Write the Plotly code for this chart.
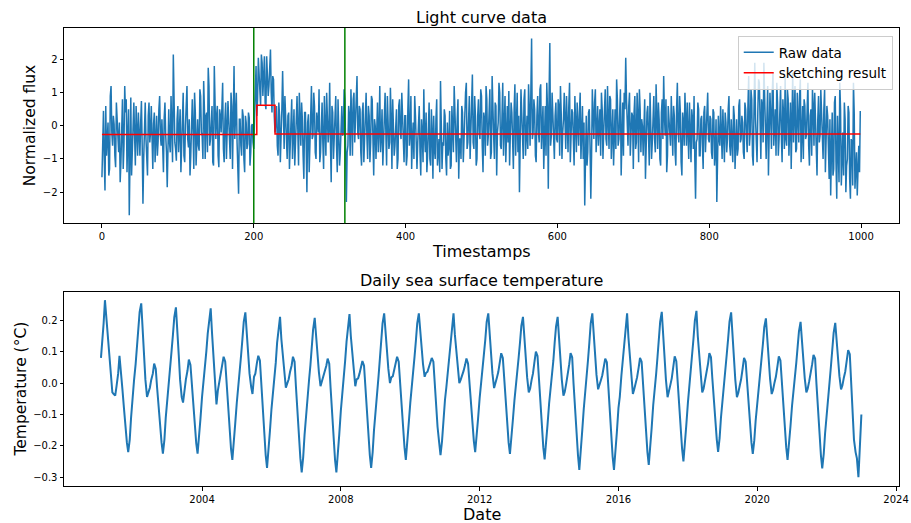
import pandas as pd
import plotly.graph_objects as go

# ---------------- Light curve data ----------------
# values at even timestamps 0, 2, 4, ... 998
flux_even = [
    -1.55, 0.45, -1.95, -0.9, 0.1, -1.3, 1.2, -0.6, 0.05, -1.25, 0.15, -0.8, -1.7, 0.2, -1.3, 1.2, 0.8, -0.3, -2.7, 0.85, -0.5, 0.7, -1.2, -0.1, 0.4,
    -0.9, 0.75, -2.35, 0.3, -0.4, -1.5, 0.7, -0.2, -0.7, 0.05, -1.1, 0.3, -0.45, 0.9, -0.6, -1.0, 0.25, -0.3, -1.85, 0.5, -0.8, 0.1, 2.15, -0.5, -1.05,
    0.6, -0.2, -1.4, 0.85, -0.9, 0.0, 1.2, -0.65, -1.5, 0.35, -0.1, 1.0, -1.2, 0.2, -0.75, 0.9, -0.3, 1.35, -1.0, 0.4, 1.75, -0.6, 0.1, -1.1, 1.8,
    -0.4, 0.6, -1.25, 0.3, 1.1, -0.7, 0.2, -1.0, 0.75, -0.35, 1.0, -1.3, 1.8, 0.5, -0.5, -2.05, 0.2, -0.9, 0.3, -1.4, 0.1, -0.55, 0.25, -0.8, 0.05,
    -0.7, 1.0, 0.3, 2.05, 1.3, 2.15, 0.9, 2.1, 0.5, 1.6, 1.2, 2.3, 0.4, 1.4, -0.2, 0.6, -0.9, 0.3, -0.5, 1.65, -0.7, 0.1, -1.0, 0.4, -0.3,
    0.8, -0.4, -1.2, 0.5, -0.1, 1.0, -0.6, 0.2, -1.6, 0.4, -2.0, 0.35, -0.5, 1.2, -0.3, 0.6, -1.0, 0.1, 1.1, -0.8, 0.7, -1.3, 0.0, 1.0, -0.5,
    1.3, -1.7, 0.4, -0.3, 0.9, -1.4, 0.1, -0.8, 0.6, -0.2, 0.8, -2.3, -0.6, 0.3, 1.1, -0.9, 1.0, 0.2, 1.5, -0.4, 0.5, -1.2, 0.7, -0.1, 1.0,
    -1.0, 0.3, -0.5, 0.8, -1.5, 0.0, 0.35, -0.8, 1.2, -0.3, -1.2, 0.4, -0.2, 0.9, -0.7, 1.15, -1.3, 0.1, -0.6, 0.5, -1.0, 0.8, -0.4, 0.2, -1.1,
    0.3, -0.9, 1.4, -0.2, -1.3, 0.1, 0.9, -1.0, -0.5, 0.6, -1.5, -0.2, 1.1, -0.8, -1.4, 0.0, -1.0, 0.5, -1.6, -0.7, 0.2, -1.2, -0.4, 1.35, -1.3,
    -0.6, 0.3, -1.5, -0.9, 0.45, -1.2, -0.3, 1.2, -0.8, 0.2, -1.6, -0.4, 0.6, -1.1, 0.1, 1.3, -0.5, 0.9, -0.2, 1.55, -0.7, 0.3, -1.0, 0.8, -0.4,
    0.9, -1.4, 0.2, 1.2, -0.6, 0.5, -1.0, 1.5, -0.3, 0.7, -1.5, 0.1, 1.0, -0.7, 1.3, -0.2, -1.1, 0.6, 1.05, -0.5, 0.4, -1.3, 1.25, 0.0, -0.8,
    -2.0, 1.1, -0.4, 0.8, -0.9, 0.3, 1.25, -0.6, 2.63, -0.2, 0.5, -1.1, 0.9, -0.5, 1.25, -0.1, -1.3, 0.6, 1.3, -1.9, 2.5, -0.3, 0.4, -1.0, 0.7,
    -0.5, 0.6, 1.2, -1.0, 0.2, -0.3, 0.9, -0.8, 1.3, -0.2, 0.4, -1.2, 0.1, 0.7, -0.6, 1.0, -0.3, -1.0, -2.4, 0.3, -0.8, 0.5, -2.2, 1.1, -0.4,
    1.1, -0.1, -0.6, 0.5, 1.0, -1.0, 0.3, -0.4, 1.2, -0.7, 0.8, -0.2, -1.2, 0.5, 1.4, -0.6, 0.2, -1.5, 0.7, 1.0, 2.05, -0.3, 0.6, -0.9, 0.4,
    -1.3, 0.9, -0.5, 0.3, 1.1, -0.8, 0.0, 0.6, -1.6, 0.4, -0.2, 1.0, -1.0, 0.5, -0.4, 1.25, -0.7, 0.2, -1.2, 0.8, 1.5, -0.3, -1.4, 0.6, -0.1,
    0.9, -0.9, 0.3, -1.2, 1.3, -0.5, 0.4, -1.5, 0.1, 1.0, -0.6, -0.2, 0.7, -1.1, 0.2, 0.9, -2.2, -0.4, 0.5, -0.9, 0.3, -1.3, 0.6, -0.3, 1.0,
    -0.5, 0.2, -1.0, 0.4, -0.8, -2.3, 0.3, -0.6, -0.2, 0.5, -1.1, 0.1, -0.4, 0.9, -0.9, -0.3, 0.6, -1.3, 0.2, -0.7, 0.8, -0.4, 0.1, -1.0, 0.5,
    -0.8, 1.5, -0.2, 0.8, -1.2, 1.9, -0.5, 0.4, 1.3, -1.0, 0.6, 1.9, -0.3, 0.2, -1.5, 1.0, -0.7, 1.6, 0.0, -0.9, 0.7, -0.4, 1.2, -1.1, 0.3,
    1.5, -0.6, 0.8, -0.2, -1.3, 1.6, 0.2, -0.8, 1.0, -0.5, 1.4, 0.3, -1.0, 0.6, -0.3, 1.3, -1.2, 0.5, 1.1, -0.6, 0.2, -1.5, 0.9, -0.3, 0.4,
    -1.0, 1.1, -0.5, 0.3, -1.6, -2.1, 0.4, -1.3, 0.9, -2.2, -0.6, 1.3, -1.8, -0.2, 0.7, -2.0, -1.0, 0.4, -2.2, -0.5, 1.3, -1.9, -0.8, -1.4, -1.4,
]
# values at odd timestamps 1, 3, 5, ... 999
flux_odd = [
    0.2, -1.0, 0.6, -0.4, -1.5, 0.9, -0.2, 0.3, -0.9, 0.7, -0.5, 0.1, -1.1, 0.8, -0.6, 0.4, -1.4, 0.5, -0.7, -1.5, 0.2, -0.3, 0.6, -0.9, -0.2,
    0.1, -0.6, -1.0, 0.7, -1.2, 0.3, -0.5, 0.6, -1.3, 0.4, -0.2, -0.9, 0.5, -0.3, 0.2, -1.4, 0.7, -0.8, 0.0, -0.5, 0.9, -1.1, 0.4, -0.7, 0.2,
    -0.8, 0.5, -0.3, 1.0, -1.1, 0.6, -0.4, 0.2, -0.9, 0.8, -1.3, 0.4, 0.0, -0.6, 1.1, -0.2, -1.0, 0.5, 0.3, -0.8, 1.2, -0.4, 0.6, -1.2, 0.4,
    0.3, -0.9, 0.5, -0.2, 1.3, -1.1, 0.7, -0.3, 0.2, -1.0, 0.6, 0.9, -0.4, 1.0, -1.2, 0.2, -0.6, 0.5, -1.0, 0.3, -0.7, 0.4, -1.2, 0.0, -0.5,
    0.2, 1.8, 0.8, 1.6, 0.6, 1.9, 1.4, 0.7, 2.1, 0.9, 1.7, 1.0, 1.5, 0.3, 0.1, -0.6, 0.7, -1.1, 0.5, -0.2, 0.9, -0.8, 0.3, -1.3, 0.6,
    -1.0, 0.5, -0.3, 0.9, -1.2, 0.2, 0.7, -0.9, 0.4, -0.5, 0.1, -1.4, 0.8, -0.4, 1.0, -0.8, 0.4, -0.2, -1.1, 0.6, -0.5, 0.9, -0.9, 0.3, -0.1,
    -0.5, 0.6, -1.0, 0.4, -0.6, 0.8, -1.2, 0.3, -0.3, 1.1, -0.7, -0.8, 0.6, -0.9, 0.2, 0.8, -0.5, 1.2, -0.2, 0.6, -0.8, 0.4, -1.1, 0.7, -0.3,
    0.6, -1.1, 0.9, -0.4, 0.2, -1.0, 0.7, -0.2, -0.8, 0.5, -0.3, 1.0, -1.2, 0.3, -0.5, 0.2, 0.8, -0.9, 0.4, -1.3, 0.6, -0.2, 1.0, -0.7, 0.3,
    -1.2, 0.5, -0.6, 0.9, -0.4, -1.0, 0.3, -1.3, 0.6, -0.8, 0.2, -1.1, -0.3, 0.4, -0.9, 0.7, -1.2, -0.2, 0.3, -1.0, 0.8, -0.6, -1.4, 0.1, -0.5,
    0.5, -1.0, 0.1, -0.6, -1.3, 0.6, -0.8, 0.3, -1.1, 0.8, -0.4, -1.0, 0.4, -0.3, 1.0, -0.7, 0.2, -1.0, 0.6, -0.5, 0.9, -1.2, 0.3, -0.2, 1.1,
    -0.6, 0.4, -0.9, 0.8, -0.3, 1.1, -0.8, 0.2, -1.0, 0.6, -0.2, 1.3, -0.6, 0.3, -0.9, 0.9, 0.2, -0.5, -1.2, 0.7, -0.4, 0.5, -0.9, 1.0, 0.3,
    -0.3, 0.4, -1.0, 1.1, 0.2, -0.7, 0.5, 1.0, -0.4, 0.8, -0.9, 0.3, -0.2, 1.1, -0.7, 0.6, 0.2, -0.9, 0.5, 0.9, -0.6, 1.0, -0.8, 0.3, -0.4,
    0.8, -0.9, 0.4, -0.2, 1.0, -0.7, 0.3, 0.6, -1.1, 0.5, -0.5, 0.9, -0.8, -0.3, 0.4, -1.0, 0.6, 0.1, -0.9, -1.2, 0.4, -0.6, -0.9, 0.3, 0.7,
    -0.8, 0.6, 0.2, -0.9, 0.5, -0.2, 1.1, -0.6, 0.3, 0.9, -1.0, 0.5, 0.0, -0.7, 0.8, -0.4, 1.1, -0.3, -0.9, 0.5, 0.8, -0.6, 1.0, -0.2, 0.3,
    0.4, -0.7, 1.0, -1.1, 0.5, 0.2, -0.9, 0.8, -0.3, 0.6, -1.2, 0.3, -0.5, 0.9, -0.8, 0.1, 0.7, -1.0, 0.4, -0.4, 0.3, 0.8, -0.9, 0.2, -0.6,
    -0.3, 0.6, -0.8, 0.5, -0.2, 0.9, -1.1, 0.4, -0.6, 0.2, 0.7, -1.0, -0.3, 0.5, -0.7, -1.0, -0.5, 0.7, -0.9, 0.2, -0.6, 0.4, -0.8, 0.6, -0.4,
    0.3, -0.8, 0.5, -1.2, 0.2, -1.0, -0.4, 0.6, -1.0, -0.2, 0.4, -0.8, 0.5, -0.6, 0.2, -1.1, 0.3, -0.2, -0.9, 0.6, -0.5, 0.3, -0.8, 0.7, -0.3,
    0.6, -0.6, 1.1, -0.9, 0.5, 0.2, -1.1, 1.4, -0.3, 0.8, -0.5, 0.9, -1.0, 1.2, -0.4, 0.3, 1.0, -0.6, 0.5, 1.3, -0.9, 0.6, -0.3, 0.8, -0.7,
    -0.4, 1.1, -0.9, 0.7, 0.2, -0.5, 1.2, -0.7, 0.4, 0.9, -1.1, 0.6, 0.8, -0.4, 1.0, -0.6, 0.3, -0.9, 0.6, 1.0, -1.0, 0.2, -0.5, 1.1, -0.8,
    0.5, -1.4, 0.6, -1.0, 0.2, -0.8, -1.5, 0.7, -1.1, 0.3, -1.7, 0.5, -0.9, -1.5, 0.2, -1.2, 0.6, -1.6, -0.4, -1.8, 0.4, -1.3, -2.1, -0.6, 0.45,
]
flux = [v for pair in zip(flux_even, flux_odd) for v in pair]
timestamps = list(range(len(flux)))

# sketching result (piecewise constant)
sketch_x = [0, 204, 228, 999]
sketch_y = [-0.26, 0.62, -0.25, -0.25]
change_points = [200, 320]

# ---------------- Daily sea surface temperature (semi-monthly samples) ----------------
sst_2001 = [.08, .13, .19, .264, .2, .17, .10, .04, -.03, -.035, -.04, -.01, .03, .087, .04, -.02, -.08, -.14, -.19, -.22, -.18, -.11]
sst_2002 = [-.035, .008, .06, .118, .165, .226, .254, .16, .095, .01, -.044, -.03, -.015, .01, .03, .062, .045, -.015, -.08, -.145, -.19, -.225, -.18, -.11]
sst_2003 = [-.043, -.002, .05, .105, .155, .21, .241, .15, .088, .01, -.045, -.062, -.01, .012, .04, .075, .058, .0, -.078, -.13, -.192, -.225, -.175, -.115]
sst_2004 = [-.044, -.005, .05, .1, .158, .205, .238, .16, .09, .02, -.068, -.025, .005, .025, .055, .084, .068, .0, -.082, -.15, -.21, -.245, -.195, -.13]
sst_2005 = [-.062, -.02, .035, .088, .14, .195, .225, .15, .098, .03, -.012, -.035, .02, .03, .065, .087, .072, -.005, -.09, -.165, -.23, -.27, -.22, -.155]
sst_2006 = [-.082, -.04, .02, .065, .128, .175, .211, .14, .09, .028, -.015, -.002, .012, .035, .056, .084, .068, -.01, -.1, -.178, -.24, -.285, -.235, -.165]
sst_2007 = [-.093, -.05, .012, .058, .122, .17, .208, .145, .085, .035, -.01, .005, .014, .032, .055, .078, .062, -.015, -.105, -.175, -.245, -.285, -.232, -.165]
sst_2008 = [-.088, -.045, .02, .07, .132, .182, .22, .15, .097, .035, -.01, .012, .015, .03, .05, .07, .055, -.018, -.1, -.17, -.23, -.27, -.22, -.15]
sst_2009 = [-.078, -.035, .022, .078, .13, .19, .222, .158, .098, .045, .0, .018, .022, .04, .06, .084, .068, .0, -.082, -.15, -.205, -.245, -.195, -.13]
sst_2010 = [-.063, -.022, .032, .085, .135, .19, .222, .162, .108, .06, .02, .032, .036, .05, .063, .08, .068, .0, -.075, -.14, -.19, -.23, -.185, -.12]
sst_2011 = [-.054, -.015, .04, .09, .14, .192, .222, .155, .102, .042, .0, .01, .022, .038, .058, .078, .062, .004, -.072, -.13, -.185, -.22, -.175, -.115]
sst_2012 = [-.048, -.01, .045, .092, .14, .195, .222, .15, .09, .03, -.016, -.003, .018, .035, .068, .095, .08, .015, -.068, -.13, -.19, -.226, -.18, -.12]
sst_2013 = [-.056, -.018, .035, .083, .13, .182, .211, .14, .075, .018, -.03, -.018, .01, .03, .07, .1, .086, .012, -.075, -.14, -.205, -.243, -.195, -.135]
sst_2014 = [-.066, -.028, .03, .072, .13, .18, .211, .135, .075, .01, -.04, -.028, .0, .024, .06, .095, .082, .0, -.09, -.168, -.23, -.277, -.225, -.155]
sst_2015 = [-.082, -.04, .02, .075, .13, .19, .222, .148, .09, .026, -.02, -.008, .01, .025, .052, .078, .066, -.012, -.1, -.17, -.235, -.277, -.225, -.158]
sst_2016 = [-.08, -.044, .024, .07, .135, .185, .222, .145, .08, .018, -.035, -.02, .0, .018, .05, .08, .068, -.005, -.09, -.16, -.22, -.261, -.21, -.145]
sst_2017 = [-.07, -.03, .03, .083, .138, .195, .227, .145, .078, .01, -.045, -.03, -.005, .015, .052, .085, .07, .0, -.085, -.15, -.21, -.25, -.2, -.135]
sst_2018 = [-.063, -.02, .036, .09, .142, .198, .23, .15, .088, .02, -.03, -.018, .008, .028, .062, .095, .082, .016, -.062, -.125, -.18, -.219, -.175, -.11]
sst_2019 = [-.046, -.008, .045, .095, .143, .196, .225, .143, .078, .01, -.045, -.032, -.008, .012, .048, .08, .068, .004, -.075, -.135, -.19, -.226, -.182, -.12]
sst_2020 = [-.058, -.02, .033, .078, .126, .178, .206, .133, .072, .013, -.035, -.022, .002, .02, .055, .085, .072, .003, -.08, -.148, -.205, -.245, -.2, -.14]
sst_2021 = [-.073, -.035, .02, .065, .115, .165, .195, .128, .07, .015, -.03, -.018, .006, .026, .06, .09, .078, -.002, -.09, -.165, -.23, -.272, -.225, -.16]
sst_2022 = [-.09, -.052, .006, .055, .108, .16, .192, .128, .075, .022, -.02, -.008, .018, .036, .074, .105, .092, .004, -.098, -.18, -.22, -.24, -.30, -.22]
sst_2023 = [-.10]

sst = (sst_2001 + sst_2002 + sst_2003 + sst_2004 + sst_2005 + sst_2006 + sst_2007 + sst_2008
       + sst_2009 + sst_2010 + sst_2011 + sst_2012 + sst_2013 + sst_2014 + sst_2015 + sst_2016
       + sst_2017 + sst_2018 + sst_2019 + sst_2020 + sst_2021 + sst_2022 + sst_2023)
sst_dates = pd.date_range("2001-02-01", periods=len(sst), freq="SMS")

# ---------------- Figure ----------------
BLUE = "#1f77b4"
FONT = "DejaVu Sans"

fig = go.Figure()
fig.add_trace(go.Scatter(x=timestamps, y=flux, mode="lines", name="Raw data",
                         line=dict(color=BLUE, width=1.5), xaxis="x", yaxis="y"))
fig.add_trace(go.Scatter(x=sketch_x, y=sketch_y, mode="lines", name="sketching result",
                         line=dict(color="#ff0000", width=1.5, shape="hv"), xaxis="x", yaxis="y"))
fig.add_trace(go.Scatter(x=sst_dates, y=sst, mode="lines", showlegend=False,
                         line=dict(color=BLUE, width=2), xaxis="x2", yaxis="y2"))

for cp in change_points:
    fig.add_shape(type="line", xref="x", yref="y domain", x0=cp, x1=cp, y0=0, y1=1,
                  line=dict(color="#008000", width=1.5), layer="above")

axis_common = dict(showline=True, linecolor="black", linewidth=1, mirror=True,
                   ticks="outside", ticklen=3.5, tickwidth=0.8, tickcolor="black",
                   showgrid=False, zeroline=False, automargin=False,
                   tickfont=dict(family=FONT, size=10, color="black"))

fig.update_layout(
    width=911, height=523,
    margin=dict(l=64, r=12, t=28, b=37, autoexpand=False),
    paper_bgcolor="white", plot_bgcolor="white",
    font=dict(family=FONT, color="black"),
    xaxis=dict(domain=[0, 1], anchor="y", range=[-50, 1050],
               tickvals=[0, 200, 400, 600, 800, 1000], **axis_common),
    yaxis=dict(domain=[0.5736, 1], anchor="x", range=[-2.94, 2.95],
               tickvals=[-2, -1, 0, 1, 2], **axis_common),
    xaxis2=dict(domain=[0, 1], anchor="y2", type="date",
                range=["2000-01-09", "2024-02-01"],
                tick0="2004-01-01", dtick="M48", tickformat="%Y", **axis_common),
    yaxis2=dict(domain=[0, 0.4242], anchor="x2", range=[-0.328, 0.291],
                tickvals=[-0.3, -0.2, -0.1, 0.0, 0.1, 0.2], tickformat=".1f", **axis_common),
    legend=dict(x=0.9925, y=0.9825, xanchor="right", yanchor="top", itemwidth=30,
                bgcolor="rgba(255,255,255,0.8)", bordercolor="#cccccc", borderwidth=1,
                font=dict(family=FONT, size=13.5, color="black")),
    showlegend=True,
)

annotations = [
    dict(text="Light curve data", x=0.5, y=1.0232, size=16),
    dict(text="Daily sea surface temperature", x=0.5, y=0.4478, size=16),
    dict(text="Timestamps", x=0.5, y=0.5116, size=16),
    dict(text="Date", x=0.5, y=-0.0627, size=16),
    dict(text="Normalized flux", x=-0.0411, y=0.7868, textangle=-90, size=15.5),
    dict(text="Temperature (°C)", x=-0.0519, y=0.2121, textangle=-90, size=15.5),
]
for a in annotations:
    fig.add_annotation(xref="paper", yref="paper", showarrow=False,
                       xanchor="center", yanchor="middle",
                       text=a["text"], x=a["x"], y=a["y"],
                       textangle=a.get("textangle", 0),
                       font=dict(family=FONT, color="black", size=a["size"]))

fig.write_html("out.html")
